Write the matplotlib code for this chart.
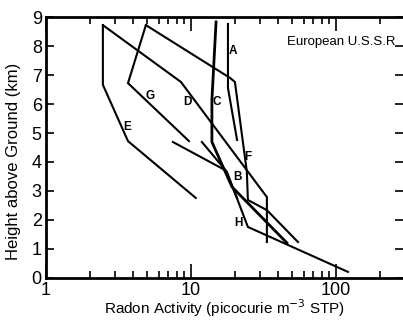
"""plot.py

Radon activity profiles over European U.S.S.R (log x, height in km).
"""

import matplotlib

matplotlib.use("Agg")
import matplotlib.pyplot as plt
from matplotlib.ticker import FixedLocator, NullFormatter

# Profile data: radon activity (pCi m^-3 STP) vs height (km)
a_x = [18.0, 18.0, 20.8]
a_y = [8.76, 6.55, 4.76]
b_x = [7.51, 17.2, 20.8]
b_y = [4.69, 3.72, 2.76]
c_x = [14.9, 13.95, 13.95, 19.2, 45.9]
c_y = [8.83, 6.14, 4.69, 3.14, 1.21]
d_x = [2.47, 8.53, 33.4, 33.4]
d_y = [8.72, 6.76, 2.79, 1.24]
e_x = [2.47, 2.47, 3.68, 10.8]
e_y = [8.72, 6.66, 4.72, 2.76]
f_x = [4.89, 18.6, 20.1, 24.3, 24.7, 33.4, 54.7]
f_y = [8.72, 6.90, 6.76, 3.66, 2.69, 2.34, 1.24]
g_x = [4.89, 3.68, 9.69]
g_y = [8.72, 6.72, 4.72]
h_x = [11.9, 17.7, 24.7, 121.0]
h_y = [4.69, 3.66, 1.76, 0.21]

y_ticks = list(range(10))
x_major = [1, 10, 100]
x_major_labels = ["1", "10", "100"]
x_minor = [2, 3, 4, 5, 6, 7, 8, 9, 20, 30, 40, 50, 60, 70, 80, 90, 200]

plt.rcParams["font.family"] = ["Liberation Sans", "DejaVu Sans"]
tick_family = ["Liberation Sans Narrow", "Liberation Sans", "DejaVu Sans"]

fig = plt.figure(figsize=(4.03, 3.21), dpi=100)
ax = fig.add_axes((0.114, 0.134, 0.886, 0.813))

profiles = [
    (a_x, a_y, 1.5),
    (b_x, b_y, 1.5),
    (c_x, c_y, 2.0),
    (d_x, d_y, 1.5),
    (e_x, e_y, 1.5),
    (f_x, f_y, 1.5),
    (g_x, g_y, 1.5),
    (h_x, h_y, 1.5),
]
for xs, ys, lw in profiles:
    ax.plot(xs, ys, color="black", linewidth=lw, solid_joinstyle="miter")

# Curve labels
label_style = dict(fontsize=8.5, fontweight="bold", ha="center", va="center")
ax.text(19.5, 7.83, "A", **label_style)
ax.text(21.1, 3.48, "B", **label_style)
ax.text(15.1, 6.07, "C", **label_style)
ax.text(9.39, 6.07, "D", **label_style)
ax.text(3.62, 5.2, "E", **label_style)
ax.text(24.7, 4.17, "F", **label_style)
ax.text(5.21, 6.28, "G", **label_style)
ax.text(21.4, 1.9, "H", **label_style)

ax.text(0.98, 0.905, "European U.S.S.R", transform=ax.transAxes,
        ha="right", va="center", fontsize=9.5)

ax.set_xscale("log")
ax.set_xlim(1, 290)
ax.set_ylim(0, 9)

ax.xaxis.set_major_locator(FixedLocator(x_major))
ax.xaxis.set_minor_locator(FixedLocator(x_minor))
ax.xaxis.set_minor_formatter(NullFormatter())
ax.set_xticklabels(x_major_labels)
ax.set_yticks(y_ticks)

ax.tick_params(axis="both", which="major", direction="in", length=10,
               width=1.2, top=True, right=True, labelsize=13, pad=3)
ax.tick_params(axis="both", which="minor", direction="in", length=5,
               width=1.2, top=True, right=True)
ax.tick_params(axis="y", which="major", length=6, pad=3)
for lab in ax.get_xticklabels() + ax.get_yticklabels():
    lab.set_family(tick_family)

# Right frame edge sits at the picture's border
for spine in ax.spines.values():
    spine.set_linewidth(2)
ax.spines["right"].set_visible(False)

ax.set_ylabel("Height above Ground (km)", fontsize=12)
ax.yaxis.set_label_coords(-0.07, 0.448)
ax.set_xlabel("Radon Activity (picocurie m$^{-3}$ STP)", fontsize=11,
              labelpad=-1)

plt.savefig("out.png", dpi=100)
plt.close()
